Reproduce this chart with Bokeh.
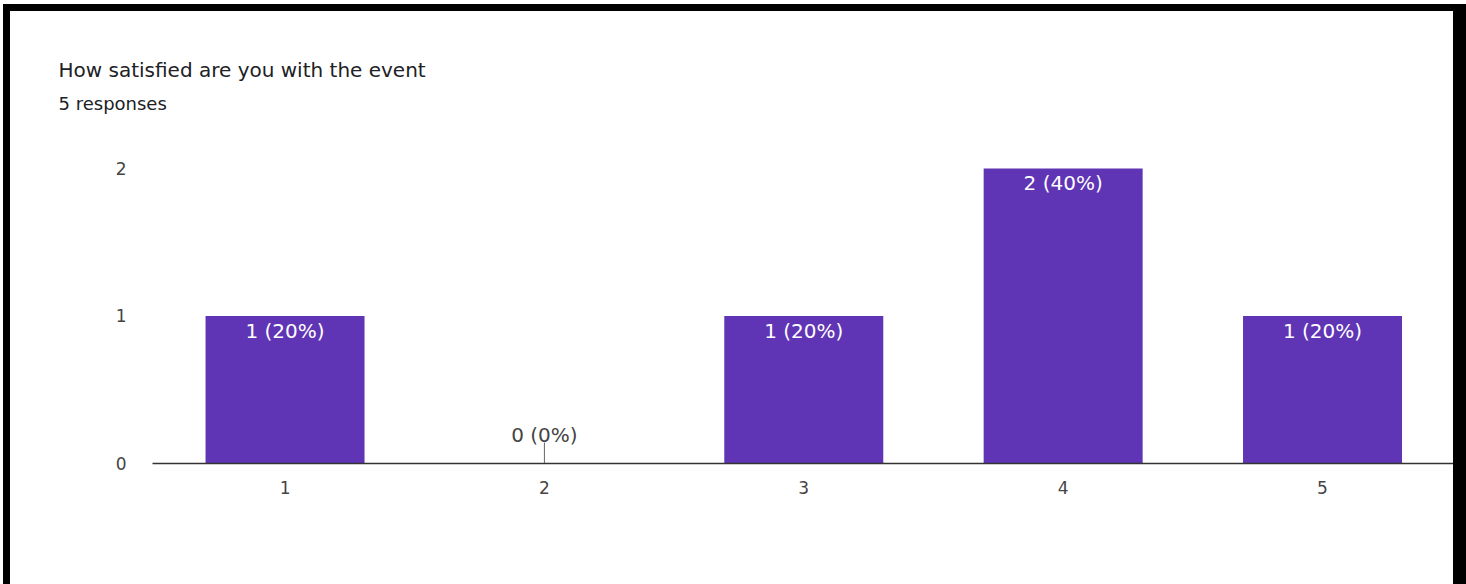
import math
from bokeh.plotting import figure
from bokeh.models import ColumnDataSource, LabelSet, FixedTicker, Range1d, Title
from bokeh.embed import file_html
from bokeh.resources import INLINE
from bokeh.core.properties import value

# ---- data ----
title_text = "How satisfied are you with the event"
subtitle_text = "5 responses"
categories = [1, 2, 3, 4, 5]
counts = [1, 0, 1, 2, 1]
percents = [20, 0, 20, 40, 20]
y_ticks = [0, 1, 2]

FONT = "DejaVu Sans"
BAR = "#5f35b5"

labels = [f"{c} ({p}%)" for c, p in zip(counts, percents)]
src = ColumnDataSource(dict(
    x=categories,
    top=counts,
    label=labels,
    yoff=[-22 if c > 0 else 22 for c in counts],
    color=["white" if c > 0 else "#444444" for c in counts],
))

p = figure(
    width=1463, height=580,
    x_range=Range1d(0.489, 5.505),
    y_range=Range1d(0, 2.122),
    output_backend="svg", toolbar_location=None,
    min_border_left=142, min_border_right=20,
    min_border_top=139, min_border_bottom=128,
    background_fill_color="white", border_fill_color="white",
    outline_line_color=None,
    styles={
        "border-style": "solid",
        "border-color": "black",
        "border-width": "7px 13px 0px 7px",
        "margin-top": "4px",
        "margin-left": "3px",
    },
)

p.vbar(x="x", top="top", width=0.613, source=src, fill_color=BAR, line_color=None)

# small marker for the zero-count category (clipped by the frame below the axis)
zero_x = [c for c, n in zip(categories, counts) if n == 0]
zero_y = [0 for _ in zero_x]
p.scatter(x=zero_x, y=zero_y, marker="dash", angle=math.pi / 2, size=42,
          line_color="#666666", line_width=1)

p.add_layout(LabelSet(
    x="x", y="top", text="label", source=src, y_offset="yoff",
    text_align="center", text_baseline="alphabetic",
    text_color="color", text_font=value(FONT), text_font_size="20px",
))

p.xgrid.grid_line_color = None
p.ygrid.grid_line_color = None

p.xaxis.ticker = FixedTicker(ticks=categories)
p.xaxis.axis_line_color = "#333333"
p.xaxis.axis_line_width = 1.5
p.xaxis.major_tick_line_color = None
p.xaxis.minor_tick_line_color = None
p.xaxis.major_label_standoff = 11
p.xaxis.major_label_text_font = FONT
p.xaxis.major_label_text_font_size = "17px"
p.xaxis.major_label_text_color = "#444444"

p.yaxis.ticker = FixedTicker(ticks=y_ticks)
p.yaxis.axis_line_color = None
p.yaxis.major_tick_line_color = None
p.yaxis.minor_tick_line_color = None
p.yaxis.major_label_standoff = 20
p.yaxis.major_label_text_font = FONT
p.yaxis.major_label_text_font_size = "17px"
p.yaxis.major_label_text_color = "#444444"

p.add_layout(Title(text=subtitle_text, align="left", offset=-94, standoff=74,
                   text_font=FONT, text_font_size="18px", text_font_style="normal",
                   text_color="#202124"), "above")
p.add_layout(Title(text=title_text, align="left", offset=-94, standoff=-56,
                   text_font=FONT, text_font_size="20px", text_font_style="normal",
                   text_color="#202124"), "above")

open("out.html", "w").write(file_html(p, INLINE))
